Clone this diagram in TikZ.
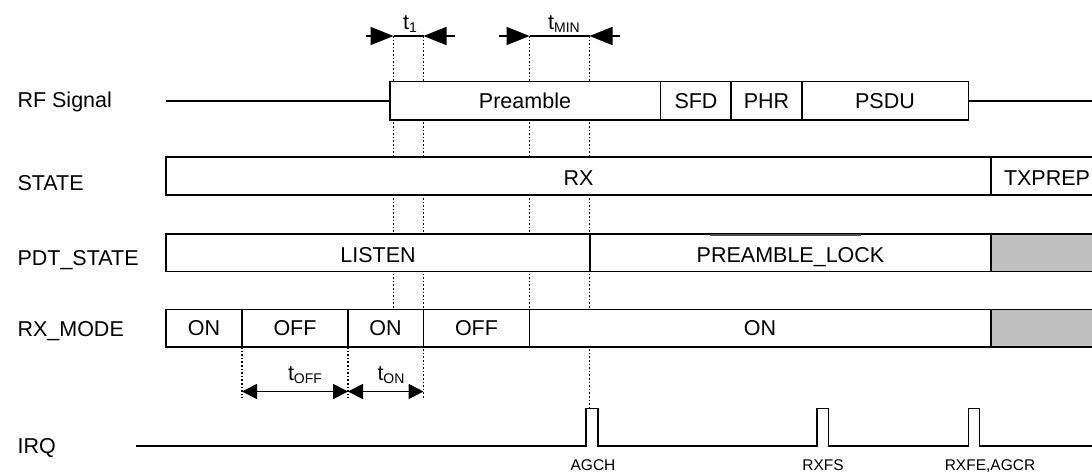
\documentclass[tikz,border=0pt]{standalone}
\usepackage{fontspec}
\setmainfont{Liberation Sans}
\definecolor{lockgray}{RGB}{192,192,192}
\usetikzlibrary{arrows.meta,positioning,calc}
\newcommand{\tsub}[1]{t\raisebox{-0.35ex}{\fontsize{14}{16}\selectfont #1}}

\begin{document}
\begin{tikzpicture}[x=1pt, y=-1pt,
  lbl/.style={anchor=base west, font=\fontsize{21.5}{25}\selectfont},
  ctxt/.style={anchor=base, font=\fontsize{21.5}{25}\selectfont},
  itxt/.style={anchor=base, font=\fontsize{15.5}{18}\selectfont},
  cell/.style={draw, line width=1.8pt, fill=white},
  wave/.style={line width=1.8pt},
  tmark/.style={dotted, line width=1.6pt},
  bigarr/.style={-{Triangle[length=23pt, width=18pt]}, line width=1.8pt},
  smallarr/.style={{Triangle[length=15pt, width=15pt]}-{Triangle[length=15pt, width=15pt]}, line width=1.8pt}
]
\useasboundingbox (0,0) rectangle (1092,472);

% Signal names
\node[lbl] (nrf)  at (14,107)   {RF Signal};
\node[lbl] (nst)  at (14,190)   {STATE};
\node[lbl] (npdt) at (14,265)   {PDT\_STATE};
\node[lbl] (nrx)  at (14,336)   {RX\_MODE};
\node[lbl] (nirq) at (14,453.5) {IRQ};

% Timing marks
\coordinate (ta) at (393.5,36);
\coordinate (tb) at (423.5,36);
\coordinate (tc) at (529.5,36);
\coordinate (td) at (589.5,36);
\draw[tmark] (ta) -- (393.5,309);
\draw[tmark] (tb) -- (423.5,398);
\draw[tmark] (tc) -- (529.5,309);
\draw[tmark] (td) -- (589.5,408);
\draw[tmark] (242,347) -- (242,398);
\draw[tmark] (348,347) -- (348,398);

% RF signal
\draw[wave] (166,101) -- (390,101);
\draw[wave] (968,101) -- (1095,101);
\draw[cell] (390,81.5) rectangle (968.5,120);
\draw[wave] (660.5,81.5) -- (660.5,120);
\draw[wave] (731,81.5) -- (731,120);
\draw[wave] (802,81.5) -- (802,120);
\node[ctxt] (pre)  at (525,108.5) {Preamble};
\node[ctxt] (sfd)  at (696,108.5) {SFD};
\node[ctxt] (phr)  at (766.5,108.5) {PHR};
\node[ctxt] (psdu) at (885,108.5) {PSDU};

% STATE
\draw[cell] (166,157) rectangle (1095,195);
\draw[wave] (991,157) -- (991,195);
\node[ctxt] (rx)  at (578.5,185) {RX};
\node[ctxt] (txp) at (1047,185) {TXPREP};

% PDT_STATE
\draw[cell] (166,234) rectangle (1095,271.5);
\fill[lockgray] (991,234) rectangle (1095,271.5);
\draw[wave] (166,234) -- (1095,234) (166,271.5) -- (1095,271.5);
\draw[wave] (590,234) -- (590,271.5);
\draw[wave] (991,234) -- (991,271.5);
\draw[line width=2pt, black!70] (710,235) -- (861,235);
\node[ctxt] (lis) at (378,262) {LISTEN};
\node[ctxt] (plk) at (790.5,262) {PREAMBLE\_LOCK};

% RX_MODE
\draw[cell] (166,309.5) rectangle (1095,347);
\fill[lockgray] (991,309.5) rectangle (1095,347);
\draw[wave] (166,309.5) -- (1095,309.5) (166,347) -- (1095,347);
\foreach \xx in {242,348,423.5,529.5,991}
  \draw[wave] (\xx,309.5) -- (\xx,347);
\node[ctxt] (on1)  at (204,335.5)   {ON};
\node[ctxt] (off1) at (295,335.5)   {OFF};
\node[ctxt] (on2)  at (385.5,335.5) {ON};
\node[ctxt] (off2) at (476.5,335.5) {OFF};
\node[ctxt] (on3)  at (760,335.5)   {ON};

% Durations
\draw[bigarr] (366,36) -- (ta);
\draw[bigarr] (455,36) -- (tb);
\draw[wave] (ta) -- (tb);
\node[ctxt] (t1) at (410,29) {\tsub{1}};
\draw[bigarr] (499,36) -- (tc);
\draw[bigarr] (620,36) -- (td);
\draw[wave] (tc) -- (td);
\node[ctxt] (tmin) at (564,29) {\tsub{MIN}};
\draw[smallarr] (242,391.5) -- (348,391.5);
\draw[smallarr] (348,391.5) -- (423.5,391.5);
\node[ctxt] (toff) at (305,380) {\tsub{OFF}};
\node[ctxt] (ton)  at (391,380) {\tsub{ON}};

% IRQ
\draw[wave] (136,446) -- (586,446) -- (586,408.5) -- (598,408.5) -- (598,446)
  -- (817,446) -- (817,408.5) -- (828.5,408.5) -- (828.5,446)
  -- (968.5,446) -- (968.5,408.5) -- (979.5,408.5) -- (979.5,446) -- (1095,446);
\node[itxt] (agch) at (593,470.5) {AGCH};
\node[itxt] (rxfs) at (823,470.5) {RXFS};
\node[itxt] (rxfe) at (990,470.5) {RXFE,AGCR};
\end{tikzpicture}
\end{document}
